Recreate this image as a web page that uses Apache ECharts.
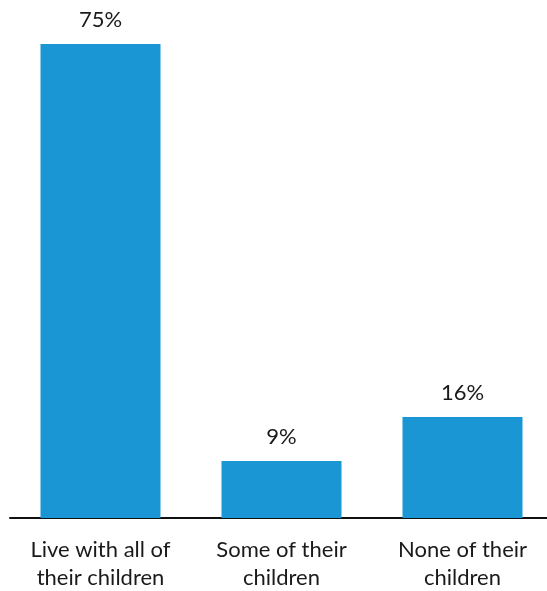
<!DOCTYPE html>
<html><head><meta charset="utf-8">
<script src="https://cdn.jsdelivr.net/npm/echarts@6/dist/echarts.min.js"></script>
<style>html,body{margin:0;padding:0;background:#fff}#c{width:547px;height:591px}</style>
</head><body><div id="c"></div>
<script>
const categories = ["Live with all of\ntheir children", "Some of their\nchildren", "None of their\nchildren"];
const values = [75, 9, 16];

const chart = echarts.init(document.getElementById('c'), null, {renderer: 'canvas'});
chart.setOption({
  animation: false,
  grid: {left: 10, width: 543, top: 44, bottom: 73, containLabel: false, outerBoundsMode: 'none'},
  xAxis: {
    type: 'category', data: categories,
    axisLine: {lineStyle: {color: '#111', width: 2}},
    axisTick: {show: false},
    axisLabel: {fontFamily: 'Lato', fontSize: 22, color: '#1a1a1a', lineHeight: 28, margin: 18, interval: 0}
  },
  yAxis: {type: 'value', min: 0, max: 75, show: false, splitLine: {show: false}},
  series: [{
    type: 'bar', data: values, barWidth: 120,
    itemStyle: {color: '#1a96d4'},
    label: {show: true, position: 'top', distance: 13, formatter: '{c}%', fontFamily: 'Lato', fontSize: 22, color: '#1a1a1a'}
  }]
});
</script></body></html>
